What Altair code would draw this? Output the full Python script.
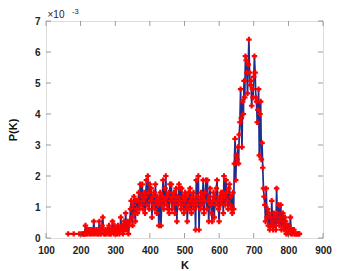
import altair as alt
import pandas as pd

# Counts per K (step of 2 in K); P(K) = count / 7500
K_STEP = 2
N_TOTAL = 7500

seg_a_start = 164
seg_a = [1, 0, 0, 0, 0, 0, 0, 0, 1, 0, 0, 0, 0, 0, 0, 0, 1, 0, 0, 1, 0, 1, 1, 1]

seg_b_start = 212
seg_b = [1, 3, 1, 2, 1, 0, 2, 1, 2, 1, 0, 2, 1, 4, 2, 1, 0, 2, 1, 1, 2, 4, 1, 2, 1, 3, 5, 2, 1, 1,
         2, 1, 0, 2, 1, 3, 1, 2, 1, 2, 4, 2, 1, 3, 2, 1, 2, 1, 3, 2, 1, 2, 5, 2, 3, 1, 2, 4, 2, 6,
         3, 2, 4, 1, 3]

seg_c_start = 342
seg_c = [4, 7, 9, 5, 3, 8, 10, 6, 4, 9, 7]

seg_d_start = 364
seg_d = [6, 9, 11, 7, 13, 8, 10, 13, 7, 9, 11, 6, 10, 14, 8, 15, 11, 7, 13, 9,
         12, 5, 10, 8, 11, 7, 13, 9, 6, 10, 8, 3, 9, 11, 3, 8, 10, 14, 7, 9,
         12, 15, 8, 10, 7, 11, 6, 13, 9, 13, 7, 10, 8, 11, 6, 9, 12, 4, 10, 8,
         13, 9, 12, 7, 12, 8, 10, 6, 9, 11, 7, 10, 4, 8, 11, 7, 12, 9, 6, 10,
         8, 11, 7, 9, 2, 14, 8, 10, 15, 2, 9, 7, 11, 8, 10, 14, 6, 9, 11, 14,
         7, 14, 9, 4, 10, 12, 8, 6, 4, 9, 11, 5, 10, 8, 12, 14, 9, 7, 4, 10,
         8, 11, 9, 11, 6, 15, 10, 8, 14, 11, 9, 7, 12, 13, 8, 10, 7, 6, 11]

seg_e_start = 642
seg_e = [7, 18, 24, 14, 20, 19, 22, 18, 25, 28, 36, 29, 22, 33, 30, 38, 34, 44, 43, 40,
         35, 42, 48, 40, 37, 38, 32, 36, 34, 39, 44, 40, 34, 33, 28, 31, 36, 20, 30, 33,
         19, 23, 17, 12, 10, 8, 4, 12, 5, 7]

seg_f_start = 742
seg_f = [3, 6, 2, 5, 3, 9, 4, 2, 6, 3, 5, 2, 12, 6, 4, 8, 3, 5, 8, 2,
         4, 6, 3, 2, 5, 4, 1, 3, 2, 1, 3, 2, 5, 1, 2, 1, 2, 2, 1, 1,
         0, 1, 1, 0, 1, 1]

x_ticks = [100, 200, 300, 400, 500, 600, 700, 800, 900]
y_ticks = [0, 1, 2, 3, 4, 5, 6, 7]

rows = []
for start, seg in [(seg_a_start, seg_a), (seg_b_start, seg_b), (seg_c_start, seg_c),
                   (seg_d_start, seg_d), (seg_e_start, seg_e), (seg_f_start, seg_f)]:
    for i, c in enumerate(seg):
        if c > 0:
            rows.append({"K": start + K_STEP * i, "P": c / N_TOTAL * 1000})
df = pd.DataFrame(rows)

W, H = 277, 217
FONT = "Liberation Sans"
GRAY = "#555555"

xs = alt.Scale(domain=[100, 900], nice=False, zero=False)
ys = alt.Scale(domain=[0, 7], nice=False)

x_axis = alt.Axis(values=x_ticks, ticks=False, domain=False, grid=False,
                  labelOverlap=False, labelFlush=False, labelBound=False,
                  labelFont=FONT, labelFontSize=10, labelFontWeight="bold",
                  labelColor="#222222", labelPadding=7,
                  titleFont=FONT, titleFontSize=11, titleFontWeight="bold",
                  titleColor="#111111", titlePadding=4)
y_axis = alt.Axis(values=y_ticks, ticks=False, domain=False, grid=False,
                  labelOverlap=False, labelFlush=False, labelBound=False,
                  labelFont=FONT, labelFontSize=10, labelFontWeight="bold",
                  labelColor="#222222", labelPadding=6,
                  titleFont=FONT, titleFontSize=11, titleFontWeight="bold",
                  titleColor="#111111", titlePadding=16)


def xe(field):
    return alt.X(field, scale=xs, title="K", axis=x_axis)


def ye(field):
    return alt.Y(field, scale=ys, title="P(K)", axis=y_axis)


line = alt.Chart(df).mark_line(color="#1c2d8e", strokeWidth=1.7).encode(
    x=xe("K:Q"), y=ye("P:Q"))
pts = alt.Chart(df).mark_point(shape="cross", filled=True, color="#ff0000",
                               size=30, opacity=1).encode(x=xe("K:Q"), y=ye("P:Q"))

xt = pd.DataFrame({"t": x_ticks})
yt = pd.DataFrame({"t": y_ticks})
tb = alt.Chart(xt).mark_tick(color=GRAY, thickness=0.8, size=5).encode(
    x=xe("t:Q"), y=alt.value(H - 2.5))
tt = alt.Chart(xt).mark_tick(color=GRAY, thickness=0.8, size=5).encode(
    x=xe("t:Q"), y=alt.value(2.5))
tl = alt.Chart(yt).mark_tick(orient="horizontal", color=GRAY, thickness=0.8, size=5).encode(
    y=ye("t:Q"), x=alt.value(2.5))
tr = alt.Chart(yt).mark_tick(orient="horizontal", color=GRAY, thickness=0.8, size=5).encode(
    y=ye("t:Q"), x=alt.value(W - 2.5))

mult = alt.Chart(pd.DataFrame({"s": ["\u00d710"]})).mark_text(
    font=FONT, fontSize=10, align="left", baseline="alphabetic", color="#222222").encode(
    text="s:N", x=alt.value(1.5), y=alt.value(-3))
expo = alt.Chart(pd.DataFrame({"s": ["-3"]})).mark_text(
    font=FONT, fontSize=7.5, align="left", baseline="alphabetic", color="#222222").encode(
    text="s:N", x=alt.value(26), y=alt.value(-7.5))

chart = alt.layer(line, pts, tb, tt, tl, tr, mult, expo).properties(
    width=W, height=H,
    autosize=alt.AutoSizeParams(type="none"),
    padding={"left": 38, "top": 13, "right": 25, "bottom": 32},
).configure_view(stroke="#666666", strokeWidth=1).configure_axis(
    labelOverlap=False).configure(background="white")

chart.save("out.html", embed_options={"renderer": "svg", "actions": False})
